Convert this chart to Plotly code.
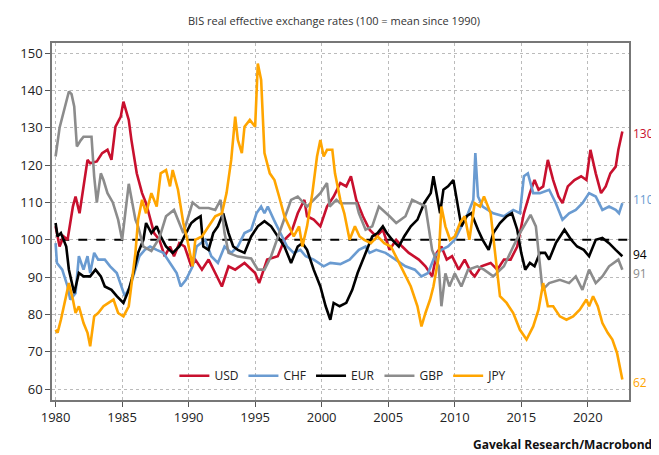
import plotly.graph_objects as go

# ---- Data ----
usd_x = [1980.0, 1980.3, 1980.6, 1980.9, 1981.3, 1981.5, 1981.8, 1982.1, 1982.4, 1982.6, 1983.1, 1983.5, 1983.9,
         1984.2, 1984.5, 1984.9, 1985.1, 1985.5, 1985.7, 1986.1, 1986.5, 1986.8, 1987.1, 1987.4, 1987.8, 1988.2,
         1988.6, 1988.9, 1989.3, 1989.7, 1990.2, 1990.5, 1991.0, 1991.5, 1992.0, 1992.5, 1993.0, 1993.5, 1994.2,
         1995.0, 1995.3, 1995.9, 1996.7, 1997.2, 1997.7, 1998.2, 1998.7, 1998.9, 1999.4, 1999.9, 2000.4, 2000.9,
         2001.4, 2001.85, 2002.2, 2002.6, 2003.1, 2003.6, 2004.1, 2004.6, 2005.1, 2005.6, 2006.05, 2006.55, 2007.3,
         2007.8, 2008.3, 2008.65, 2009.0, 2009.4, 2009.8, 2010.3, 2010.75, 2011.25, 2011.5, 2012.0, 2012.7, 2013.2,
         2013.7, 2014.2, 2014.7, 2015.2, 2015.65, 2016.0, 2016.3, 2016.65, 2017.0, 2017.4, 2017.8, 2018.1, 2018.5,
         2019.0, 2019.5, 2019.9, 2020.2, 2020.6, 2021.0, 2021.35, 2021.7, 2022.1, 2022.3, 2022.6]
usd_y = [103.6, 98.2, 100.9, 100.0, 108.9, 111.6, 107.1, 114.3, 121.4, 120.5, 121.0, 123.2, 124.1,
         121.4, 130.3, 133.0, 137.0, 132.1, 126.7, 117.8, 112.5, 109.8, 105.4, 101.8, 100.0, 95.6,
         98.2, 95.6, 99.1, 98.2, 92.9, 94.7, 92.0, 94.7, 91.1, 87.5, 92.9, 92.0, 93.8,
         91.1, 88.4, 94.7, 95.6, 100.0, 101.8, 107.1, 110.7, 106.3, 105.4, 103.6, 108.9, 111.6,
         115.2, 114.3, 117.0, 110.7, 106.3, 102.7, 100.9, 102.7, 97.3, 100.0, 98.2, 96.5, 94.7,
         92.9, 90.2, 96.5, 98.2, 94.7, 95.6, 92.0, 94.7, 91.1, 90.2, 92.9, 93.8, 92.0,
         94.7, 94.7, 98.2, 107.1, 112.5, 116.0, 113.4, 114.3, 121.4, 116.0, 111.6, 109.8, 114.3,
         116.0, 117.0, 116.0, 124.1, 117.8, 112.5, 114.3, 117.8, 119.6, 124.1, 129.0]

chf_x = [1980.0, 1980.1, 1980.5, 1980.9, 1981.1, 1981.5, 1981.75, 1982.1, 1982.4, 1982.6, 1982.9, 1983.2, 1983.7,
         1984.1, 1984.6, 1985.0, 1985.2, 1985.6, 1986.0, 1986.3, 1986.7, 1987.1, 1987.6, 1988.1, 1988.6, 1989.1,
         1989.4, 1989.8, 1990.3, 1990.6, 1991.25, 1991.7, 1992.2, 1992.7, 1993.2, 1993.7, 1994.2, 1994.7, 1995.1,
         1995.45, 1995.7, 1995.95, 1996.4, 1996.9, 1997.4, 1997.9, 1998.4, 1998.8, 1999.4, 2000.15, 2000.65, 2001.4,
         2002.1, 2002.8, 2003.3, 2003.6, 2004.1, 2004.8, 2005.55, 2006.3, 2007.0, 2007.5, 2008.0, 2008.5, 2009.0,
         2009.5, 2010.0, 2010.5, 2011.0, 2011.4, 2011.55, 2011.75, 2012.1, 2012.9, 2013.7, 2014.4, 2014.9, 2015.2,
         2015.5, 2015.9, 2016.4, 2017.1, 2017.6, 2018.1, 2018.6, 2019.1, 2019.6, 2020.1, 2020.6, 2021.1, 2021.6,
         2022.1, 2022.35, 2022.6]
chf_y = [99.1, 93.8, 92.0, 87.5, 84.0, 85.7, 95.6, 92.0, 95.6, 91.1, 96.5, 94.7, 94.7,
         92.9, 91.1, 86.6, 84.9, 87.5, 92.0, 95.6, 97.3, 98.2, 97.3, 96.5, 93.8, 91.1,
         87.5, 89.3, 92.9, 98.2, 100.0, 95.6, 93.8, 98.2, 96.5, 98.2, 101.8, 102.7, 107.1,
         108.9, 107.1, 108.9, 105.4, 101.8, 98.2, 96.5, 97.3, 95.6, 94.7, 92.9, 93.8, 93.5,
         94.7, 97.3, 98.2, 96.5, 97.3, 96.5, 94.7, 92.9, 92.0, 90.2, 91.1, 95.6, 97.3,
         98.2, 100.0, 103.6, 107.1, 110.7, 123.2, 111.6, 108.9, 107.1, 106.3, 108.0, 107.1, 117.0,
         117.8, 112.5, 112.5, 113.4, 109.8, 105.4, 107.1, 108.0, 109.8, 112.5, 111.6, 108.0, 108.9,
         108.0, 107.1, 109.8]

eur_x = [1980.0, 1980.15, 1980.4, 1980.8, 1981.0, 1981.4, 1981.75, 1982.1, 1982.6, 1983.0, 1983.4, 1983.7, 1984.2,
         1984.6, 1985.1, 1985.5, 1985.85, 1986.2, 1986.6, 1986.8, 1987.2, 1987.6, 1987.9, 1988.3, 1988.8, 1989.3,
         1989.8, 1990.2, 1990.5, 1990.9, 1991.1, 1991.5, 1991.85, 1992.2, 1992.6, 1993.0, 1993.35, 1993.7, 1994.2,
         1994.7, 1995.2, 1995.7, 1996.2, 1996.7, 1997.2, 1997.7, 1998.2, 1998.55, 1998.9, 1999.4, 1999.9, 2000.3,
         2000.65, 2000.9, 2001.35, 2001.85, 2002.3, 2002.7, 2003.1, 2003.45, 2003.8, 2004.2, 2004.6, 2004.9, 2005.3,
         2005.8, 2006.2, 2006.7, 2007.2, 2007.7, 2008.2, 2008.4, 2008.65, 2008.9, 2009.15, 2009.5, 2009.9, 2010.15,
         2010.5, 2010.9, 2011.25, 2011.75, 2012.1, 2012.55, 2012.9, 2013.4, 2013.9, 2014.3, 2014.7, 2015.0, 2015.3,
         2015.65, 2016.0, 2016.4, 2016.8, 2017.1, 2017.6, 2018.25, 2018.75, 2019.2, 2019.7, 2020.1, 2020.6, 2021.1,
         2021.6, 2022.1, 2022.6]
eur_y = [104.5, 100.9, 101.8, 98.2, 92.0, 85.7, 91.1, 90.2, 90.2, 92.0, 90.2, 87.5, 86.6,
         84.9, 83.1, 86.6, 91.1, 96.5, 100.0, 104.5, 101.8, 103.6, 100.9, 98.2, 96.5, 98.2,
         101.8, 104.5, 105.4, 106.3, 98.2, 97.3, 101.8, 103.6, 107.1, 101.8, 98.2, 97.3, 96.5,
         100.9, 103.6, 105.0, 103.6, 100.9, 98.2, 93.8, 98.2, 99.1, 97.3, 92.0, 87.5, 82.2,
         78.6, 83.1, 82.2, 83.1, 86.6, 91.1, 94.7, 98.2, 100.9, 101.8, 103.6, 101.8, 100.0,
         98.2, 100.9, 103.6, 105.4, 109.8, 112.5, 117.0, 112.5, 107.1, 113.4, 114.3, 116.0, 110.7,
         103.6, 106.3, 107.1, 102.7, 100.0, 97.3, 101.8, 104.5, 106.3, 107.1, 102.7, 96.5, 92.0,
         93.8, 92.9, 96.5, 96.5, 94.7, 99.1, 102.7, 100.0, 98.2, 97.3, 95.6, 100.0, 100.5,
         99.1, 97.3, 95.6]

gbp_x = [1980.0, 1980.3, 1981.0, 1981.2, 1981.4, 1981.6, 1981.9, 1982.1, 1982.7, 1982.9, 1983.1, 1983.4, 1983.6,
         1983.9, 1984.3, 1984.7, 1985.0, 1985.5, 1986.0, 1986.2, 1986.6, 1987.2, 1987.8, 1988.3, 1988.9, 1989.6,
         1990.3, 1990.8, 1991.5, 1992.0, 1992.4, 1992.7, 1993.0, 1993.7, 1994.7, 1995.2, 1995.7, 1996.2, 1996.9,
         1997.7, 1998.2, 1998.9, 1999.9, 2000.4, 2000.6, 2001.1, 2001.4, 2002.6, 2002.8, 2003.3, 2003.8, 2004.3,
         2005.1, 2005.6, 2006.3, 2006.8, 2007.3, 2007.8, 2008.3, 2008.8, 2009.0, 2009.3, 2009.6, 2010.0, 2010.5,
         2011.0, 2011.7, 2012.2, 2012.9, 2013.7, 2014.4, 2014.9, 2015.7, 2016.1, 2016.6, 2017.1, 2017.9, 2018.6,
         2019.1, 2019.6, 2020.1, 2020.6, 2021.1, 2021.6, 2022.3, 2022.6]
gbp_y = [122.3, 130.0, 139.7, 139.0, 135.7, 125.0, 126.7, 127.6, 127.6, 117.0, 110.0, 117.8, 116.0,
         112.5, 110.0, 105.4, 100.0, 115.0, 105.4, 103.6, 98.2, 97.0, 100.5, 106.3, 108.0, 101.8,
         110.0, 108.5, 108.5, 108.0, 110.7, 101.8, 96.5, 95.5, 95.0, 92.0, 92.0, 95.6, 102.7,
         110.7, 111.6, 108.9, 112.5, 115.2, 108.9, 110.7, 109.8, 109.8, 107.1, 102.7, 103.6, 108.9,
         106.3, 104.5, 106.3, 110.7, 109.8, 109.0, 97.3, 92.9, 82.2, 91.0, 87.5, 91.0, 87.5,
         92.0, 92.9, 92.0, 90.2, 92.9, 98.2, 101.8, 106.7, 103.6, 86.6, 88.4, 89.3, 88.4,
         90.2, 86.6, 92.0, 88.4, 90.2, 92.9, 94.7, 92.0]

jpy_x = [1980.0, 1980.15, 1980.4, 1980.8, 1981.0, 1981.3, 1981.5, 1981.75, 1982.1, 1982.4, 1982.6, 1982.9, 1983.2,
         1983.6, 1984.0, 1984.35, 1984.7, 1985.1, 1985.5, 1985.7, 1986.0, 1986.2, 1986.5, 1986.8, 1987.2, 1987.6,
         1987.9, 1988.3, 1988.6, 1988.8, 1989.2, 1989.6, 1989.9, 1990.3, 1990.5, 1991.0, 1991.5, 1992.0, 1992.5,
         1992.85, 1993.2, 1993.5, 1993.7, 1994.0, 1994.2, 1994.6, 1995.0, 1995.2, 1995.45, 1995.7, 1996.1, 1996.45,
         1996.8, 1997.2, 1997.55, 1997.9, 1998.3, 1998.55, 1998.9, 1999.3, 1999.65, 1999.9, 2000.15, 2000.4, 2000.8,
         2001.0, 2001.4, 2001.7, 2002.1, 2002.5, 2002.85, 2003.2, 2003.7, 2004.2, 2004.7, 2005.2, 2005.7, 2006.2,
         2006.7, 2007.2, 2007.5, 2007.8, 2008.15, 2008.4, 2008.8, 2009.0, 2009.3, 2009.65, 2010.0, 2010.4, 2010.75,
         2011.1, 2011.5, 2011.9, 2012.2, 2012.7, 2013.05, 2013.4, 2013.9, 2014.4, 2014.9, 2015.4, 2015.9, 2016.3,
         2016.65, 2017.0, 2017.4, 2017.9, 2018.4, 2018.9, 2019.4, 2019.9, 2020.1, 2020.4, 2020.75, 2021.1, 2021.5,
         2021.85, 2022.2, 2022.6]
jpy_y = [75.9, 75.1, 78.6, 84.9, 88.4, 84.0, 80.4, 82.2, 77.7, 75.1, 71.5, 79.5, 80.4,
         82.2, 83.1, 84.0, 80.4, 79.5, 82.2, 87.5, 96.5, 105.4, 110.7, 107.1, 112.5, 108.9,
         117.8, 118.7, 114.3, 118.7, 113.4, 104.5, 100.0, 92.9, 100.0, 100.9, 103.6, 106.3, 107.1,
         112.5, 121.4, 133.0, 126.7, 123.2, 130.3, 132.1, 130.3, 147.2, 142.8, 123.2, 117.8, 116.0,
         111.6, 106.3, 103.6, 100.9, 103.6, 98.2, 103.6, 112.5, 122.3, 126.7, 122.3, 124.1, 124.1,
         117.8, 110.7, 107.1, 100.0, 103.6, 100.9, 100.0, 99.1, 100.9, 99.1, 98.2, 94.7, 91.1,
         87.5, 82.2, 76.8, 80.4, 84.0, 87.5, 95.6, 108.9, 103.6, 100.0, 100.9, 104.5, 106.3,
         100.0, 109.8, 108.9, 111.6, 107.1, 95.6, 84.9, 83.1, 80.4, 75.9, 73.3, 76.8, 81.3,
         88.4, 82.2, 82.2, 79.5, 78.6, 79.5, 81.3, 84.0, 82.2, 84.9, 82.2, 77.7, 75.1,
         73.3, 69.7, 62.6]

series_names = ["USD", "CHF", "EUR", "GBP", "JPY"]
series_x = [usd_x, chf_x, eur_x, gbp_x, jpy_x]
series_y = [usd_y, chf_y, eur_y, gbp_y, jpy_y]
series_colors = ["#C8102E", "#6A9BD1", "#000000", "#8C8C8C", "#FFA500"]
end_labels = ["130", "110", "94", "91", "62"]
end_label_pos = [128.6, 110.7, 96.0, 90.9, 61.8]

x_ticks = [1980, 1985, 1990, 1995, 2000, 2005, 2010, 2015, 2020]
y_ticks = [60, 70, 80, 90, 100, 110, 120, 130, 140, 150]
mean_level = 100

title_text = "BIS real effective exchange rates (100 = mean since 1990)"
source_text = "Gavekal Research/Macrobond"

# ---- Figure ----
fig = go.Figure()

fig.add_trace(go.Scatter(
    x=[1979.0, 2024.0], y=[mean_level, mean_level], mode="lines",
    line=dict(color="#000000", width=2, dash="dash"),
    showlegend=False, hoverinfo="skip"))

for name, xs, ys, col in zip(series_names, series_x, series_y, series_colors):
    fig.add_trace(go.Scatter(x=xs, y=ys, mode="lines", name=name,
                             line=dict(color=col, width=2.6)))

for lab, pos, col in zip(end_labels, end_label_pos, series_colors):
    fig.add_annotation(x=1.004, xref="paper", y=pos, yref="y", text=lab,
                       showarrow=False, xanchor="left", yanchor="middle",
                       font=dict(size=12, color=col, family="Open Sans"))

fig.add_annotation(x=0.488, xref="paper", y=1.064, yref="paper", text=title_text,
                   showarrow=False, xanchor="center", yanchor="middle",
                   font=dict(size=11, color="#333333", family="Open Sans"))

fig.add_annotation(x=1.043, xref="paper", y=-0.126, yref="paper", text="<b>" + source_text + "</b>",
                   showarrow=False, xanchor="right", yanchor="middle",
                   font=dict(size=12, color="#111111", family="Open Sans"))

# page body has an 8px default margin, so the figure is sized 8px smaller
fig.update_layout(
    width=651, height=447,
    margin=dict(l=37, r=30, t=35, b=55),
    paper_bgcolor="white", plot_bgcolor="white",
    font=dict(family="Open Sans", size=12, color="#222222"),
    showlegend=True,
    legend=dict(orientation="h", x=0.505, xanchor="center", y=0.068, yanchor="middle",
                bgcolor="rgba(255,255,255,0)", font=dict(size=12, color="#222222"),
                itemwidth=30, tracegroupgap=0),
    xaxis=dict(range=[1979.73, 2023.1], tickmode="array", tickvals=x_ticks,
               showgrid=True, gridcolor="#BBBBBB", griddash="dot", gridwidth=1,
               showline=True, linecolor="#777777", linewidth=1.5, mirror=True,
               ticks="outside", ticklen=5, tickcolor="#555555", zeroline=False,
               tickfont=dict(size=13, color="#222222")),
    yaxis=dict(range=[57.1, 152.7], tickmode="array", tickvals=y_ticks,
               showgrid=True, gridcolor="#BBBBBB", griddash="dot", gridwidth=1,
               showline=True, linecolor="#777777", linewidth=1.5, mirror=True,
               ticks="outside", ticklen=5, tickcolor="#555555", zeroline=False,
               tickfont=dict(size=13, color="#222222")),
)

fig.write_html("out.html")
